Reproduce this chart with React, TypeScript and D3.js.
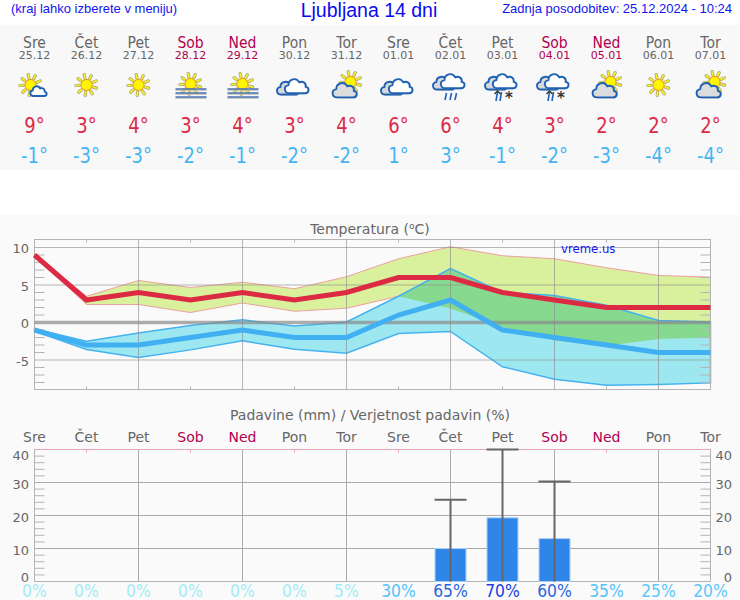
import React from "react";
import * as d3 from "d3";

const dayNames = ["Sre","Čet","Pet","Sob","Ned","Pon","Tor","Sre","Čet","Pet","Sob","Ned","Pon","Tor"];
const dates = ["25.12","26.12","27.12","28.12","29.12","30.12","31.12","01.01","02.01","03.01","04.01","05.01","06.01","07.01"];
const weekendIdx = [3,4,10,11];
const icons = ["sunCloud","sun","sun","fog","fog","cloudy","partly","cloudy","rain","sleet","sleet","partly","sun","partly"];
const maxTemp = [9,3,4,3,4,3,4,6,6,4,3,2,2,2];
const minTemp = [-1,-3,-3,-2,-1,-2,-2,1,3,-1,-2,-3,-4,-4];
const maxHigh = [9,3.5,5.6,4.67,5.37,4.5,6.1,8.5,10.1,8.9,8.5,7.3,6.27,6.05];
const maxLow = [9,2.4,2.4,1.33,2.6,1.5,1.9,3.5,1.87,-0.6,-2.4,-3.1,-2.2,-2.0];
const minHigh = [-0.85,-2.5,-1.4,-0.4,0.35,-0.45,0.08,3.5,7.2,4.0,3.6,2.3,0.27,0.08];
const minLow = [-1.15,-3.6,-4.67,-3.65,-2.45,-3.56,-4.1,-1.47,-1.2,-5.9,-7.56,-8.36,-8.27,-8.05];
const rainIdx = [8,9,10];
const rainMm = [10,19.3,13];
const rainHigh = [24.8,40,30.3];
const probability = [0,0,0,0,0,0,5,30,65,70,60,35,25,20];
const probColors = ["#a4ecf8","#a4ecf8","#a4ecf8","#a4ecf8","#a4ecf8","#a4ecf8","#a4ecf8","#55c2fa","#2b66dc","#1a40dc","#2b66dc","#55c2fa","#5cc8fc","#5cc8fc"];
const tempMajor = [10,5,-5];
const tempLabels = [10,5,0,-5];
const tempMinor = [9,8,7,6,4,3,2,1,-1,-2,-3,-4,-6,-7,-8];
const rainMajor = [10,20,30];
const rainLabels = [40,30,20,10,0];
const rainMinor = [38,36,34,32,28,26,24,22,18,16,14,12,8,6,4,2];

const idx = d3.range(14);
const x = d3.scaleLinear().domain([0,13]).range([34.5,710.5]);
const yT = d3.scaleLinear().domain([0,10]).range([322.5,247.5]);
const yR = d3.scaleLinear().domain([0,40]).range([581.5,449.5]);
const TOP_T = 239.5, BOT_T = 389.5, TOP_R = 449.5, BOT_R = 581.5;
const L = x(0), R = x(13);

const lineOf = d3.line<number>().x((_, i) => x(i)).y((v) => yT(v));
const bandOf = (hi: number[], lo: number[]) =>
  d3.area<number>().x((i) => x(i)).y0((i) => yT(lo[i])).y1((i) => yT(hi[i]))(idx) as string;

const FONT = "'DejaVu Sans', sans-serif";
const ARIAL = "'Liberation Sans', Arial, sans-serif";
const GREY = "#666";
const WEEKEND = "#b0004f";
const GRID = "#b4b4b4";
const CLOUD = "#1f62b4";

function Sun({ cx, cy, r = 5.6 }: { cx: number; cy: number; r?: number }) {
  const rays = d3.range(9).map((k) => (k * 2 * Math.PI) / 9 + 0.3);
  return (
    <g>
      {rays.map((a, i) => (
        <line key={i} x1={cx + Math.cos(a) * (r + 1.5)} y1={cy + Math.sin(a) * (r + 1.5)}
          x2={cx + Math.cos(a) * (r + 5)} y2={cy + Math.sin(a) * (r + 5)}
          stroke="#a0a080" strokeWidth={3.2} strokeLinecap="round" />
      ))}
      {rays.map((a, i) => (
        <line key={"y" + i} x1={cx + Math.cos(a) * (r + 1.5)} y1={cy + Math.sin(a) * (r + 1.5)}
          x2={cx + Math.cos(a) * (r + 5)} y2={cy + Math.sin(a) * (r + 5)}
          stroke="#f6ee20" strokeWidth={1.9} strokeLinecap="round" />
      ))}
      <circle cx={cx} cy={cy} r={r} fill="#fdf600" stroke="#f0a020" strokeWidth={1.1} />
    </g>
  );
}

const CLOUD_PATH = "M-9 8C-15 8-16 0-10-1C-10-8-1-10 2-4C6-6 10-3 9 1C14 2 13 8 8 8Z";

function Cloud({ cx, cy, s = 1, fill = "#fff" }: { cx: number; cy: number; s?: number; fill?: string }) {
  return (
    <g transform={`translate(${cx},${cy}) scale(${s})`}>
      <path d={CLOUD_PATH} fill="#999" opacity={0.4} transform="translate(0.8,1.4)" />
      <path d={CLOUD_PATH} fill={fill} stroke={CLOUD} strokeWidth={1.9 / s} strokeLinejoin="round" />
    </g>
  );
}

function DoubleCloud({ cx, cy }: { cx: number; cy: number }) {
  return (
    <g>
      <Cloud cx={cx - 6} cy={cy + 1} s={0.82} fill="#d8d8d8" />
      <Cloud cx={cx + 3} cy={cy - 1} s={0.9} />
    </g>
  );
}

function Icon({ type, cx }: { type: string; cx: number }) {
  const cy = 85;
  if (type === "sun") return <Sun cx={cx} cy={cy} />;
  if (type === "sunCloud")
    return <g><Sun cx={cx - 4} cy={cy} /><Cloud cx={cx + 4.5} cy={cy + 6} s={0.62} /></g>;
  if (type === "fog")
    return (
      <g>
        <Sun cx={cx} cy={cy - 1} />
        {[4, 8, 12].map((d, i) => (
          <g key={i}>
            <line x1={cx - 15} x2={cx + 16} y1={cy + d + 1.2} y2={cy + d + 1.2} stroke="#bbb" strokeWidth={1.2} />
            <line x1={cx - 15} x2={cx + 16} y1={cy + d} y2={cy + d} stroke="#4a72b0" strokeWidth={1.5} />
          </g>
        ))}
      </g>
    );
  if (type === "cloudy") return <DoubleCloud cx={cx} cy={cy + 2} />;
  if (type === "partly")
    return <g><Sun cx={cx + 4} cy={cy - 3} r={5.6} /><Cloud cx={cx - 1} cy={cy + 5} s={0.92} fill="#dcdcdc" /></g>;
  return (
    <g>
      <DoubleCloud cx={cx} cy={cy - 3} />
      {type === "rain"
        ? [-4, 1, 6].map((d) => (
            <line key={d} x1={cx + d} x2={cx + d - 1.5} y1={cy + 8} y2={cy + 15} stroke={CLOUD} strokeWidth={1.6} />
          ))
        : (
          <g>
            {[-5, -1].map((d) => (
              <line key={d} x1={cx + d} x2={cx + d - 1.5} y1={cy + 7} y2={cy + 16} stroke={CLOUD} strokeWidth={1.6} />
            ))}
            <text x={cx + 6.5} y={cy + 18} textAnchor="middle" fontFamily={FONT} fontSize={15} fontWeight={700} fill="#333">*</text>
            <path d={`M${cx - 8} ${cy + 9}l3-3l3 3`} fill="none" stroke="#333" strokeWidth={1.3} />
          </g>
        )}
    </g>
  );
}

export default function App() {
  const dayColor = (i: number) => (weekendIdx.includes(i) ? WEEKEND : GREY);
  return (
    <svg width={740} height={600} style={{ position: "fixed", left: 0, top: 0, display: "block" }}>
      <rect width={740} height={600} fill="#fff" />
      <rect y={25} width={740} height={145} fill="#f8f8f8" />
      <rect y={215} width={740} height={385} fill="#fafafa" />

      {/* header */}
      <text x={11} y={13} fontFamily={ARIAL} fontSize={13} fill="#1414f0">(kraj lahko izberete v meniju)</text>
      <text x={369} y={17} textAnchor="middle" fontFamily={ARIAL} fontSize={19.5} fill="#0a0af0">Ljubljana 14 dni</text>
      <text x={732} y={13} textAnchor="end" fontFamily={ARIAL} fontSize={13} fill="#1414f0">Zadnja posodobitev: 25.12.2024 - 10:24</text>

      {/* daily panel */}
      {idx.map((i) => (
        <g key={i} textAnchor="middle" fontFamily={FONT}>
          <text transform={`translate(${x(i)},48) scale(0.9,1)`} fontSize={15.5} fill={dayColor(i)}>{dayNames[i]}</text>
          <text x={x(i)} y={59} fontSize={11} fill={dayColor(i)}>{dates[i]}</text>
          <Icon type={icons[i]} cx={x(i)} />
          <text transform={`translate(${x(i)},133) scale(0.82,1)`} fontSize={22} fill="#dc2a44">{maxTemp[i]}°</text>
          <text transform={`translate(${x(i)},162.5) scale(0.82,1)`} fontSize={22} fill="#45b4f2">{minTemp[i]}°</text>
        </g>
      ))}

      {/* temperature */}
      <text x={370} y={234} textAnchor="middle" fontFamily={FONT} fontSize={14} fill={GREY}>
        Temperatura (<tspan fontSize={9} dy={-5}>o</tspan><tspan dy={5}>C)</tspan>
      </text>
      <clipPath id="minBand"><path d={bandOf(minHigh, minLow)} /></clipPath>
      <path d={bandOf(maxHigh, maxLow)} fill="#d9f09c" stroke="#eda0a0" strokeWidth={1} />
      <path d={bandOf(minHigh, minLow)} fill="#9de8f0" />
      <path d={bandOf(maxHigh, maxLow)} fill="#87d98f" clipPath="url(#minBand)" />
      <path d={bandOf(minHigh, minLow)} fill="none" stroke="#45b2f0" strokeWidth={1.5} />
      {tempMajor.map((v) => (
        <line key={v} x1={L} x2={R} y1={yT(v)} y2={yT(v)} stroke="#888" strokeOpacity={0.6} />
      ))}
      {tempMinor.map((v) => (
        <g key={v} stroke={GRID}>
          <line x1={L} x2={L + 10} y1={yT(v)} y2={yT(v)} />
          <line x1={R - 10} x2={R} y1={yT(v)} y2={yT(v)} />
        </g>
      ))}
      {idx.map((i) => i % 2 === 0
        ? <line key={i} x1={x(i)} x2={x(i)} y1={TOP_T} y2={BOT_T} stroke="#888" strokeOpacity={0.6} />
        : <g key={i} stroke={GRID}>
            <line x1={x(i)} x2={x(i)} y1={TOP_T} y2={TOP_T + 3} />
            <line x1={x(i)} x2={x(i)} y1={BOT_T - 3} y2={BOT_T} />
          </g>)}
      <rect x={L} y={TOP_T} width={R - L} height={BOT_T - TOP_T} fill="none" stroke={GRID} />
      <line x1={L} x2={R} y1={yT(0)} y2={yT(0)} stroke="#8a8a8a" strokeOpacity={0.7} strokeWidth={3.4} />
      <path d={lineOf(minTemp) as string} fill="none" stroke="#40b0f2" strokeWidth={5} />
      <path d={lineOf(maxTemp) as string} fill="none" stroke="#dc2a44" strokeWidth={5} />
      <text x={561} y={253} fontFamily={FONT} fontSize={11.7} fill="#1414f0">vreme.us</text>
      {tempLabels.map((v) => (
        <text key={v} x={29} y={yT(v) + 5.5} textAnchor="end" fontFamily={FONT} fontSize={13} fill={GREY}>{v}</text>
      ))}

      {/* precipitation */}
      <text x={370} y={420} textAnchor="middle" fontFamily={FONT} fontSize={14} fill={GREY}>Padavine (mm) / Verjetnost padavin (%)</text>
      {idx.map((i) => (
        <text key={i} x={x(i)} y={442} textAnchor="middle" fontFamily={FONT} fontSize={14} fill={dayColor(i)}>{dayNames[i]}</text>
      ))}
      {rainMajor.map((v) => (
        <line key={v} x1={L} x2={R} y1={yR(v)} y2={yR(v)} stroke="#aaa" />
      ))}
      {rainMinor.map((v) => (
        <g key={v} stroke={GRID}>
          <line x1={L} x2={L + 10} y1={yR(v)} y2={yR(v)} />
          <line x1={R - 10} x2={R} y1={yR(v)} y2={yR(v)} />
        </g>
      ))}
      {idx.map((i) => i % 2 === 0
        ? <line key={i} x1={x(i)} x2={x(i)} y1={TOP_R} y2={BOT_R} stroke="#aaa" />
        : <line key={i} x1={x(i)} x2={x(i)} y1={TOP_R} y2={TOP_R + 3} stroke="#e6a4bc" />)}
      <path d={`M${L} ${TOP_R}V${BOT_R}H${R}V${TOP_R}`} fill="none" stroke={GRID} />
      <line x1={L} x2={R} y1={TOP_R} y2={TOP_R} stroke="#e6a4bc" />
      {rainIdx.map((d, k) => (
        <g key={d}>
          <rect x={x(d) - 15.5} y={yR(rainMm[k])} width={31} height={yR(0) - yR(rainMm[k])} fill="#2f86e8" stroke="#a8d0f4" />
          <line x1={x(d)} x2={x(d)} y1={yR(rainHigh[k])} y2={yR(0)} stroke={GREY} strokeWidth={2} />
          <line x1={x(d) - 16} x2={x(d) + 16} y1={yR(rainHigh[k])} y2={yR(rainHigh[k])} stroke={GREY} strokeWidth={2} />
        </g>
      ))}
      {rainLabels.map((v) => {
        const ly = Math.min(577, Math.max(455, yR(v) + 1.5)) + 5;
        return (
          <g key={v} fontFamily={FONT} fontSize={13} fill={GREY}>
            <text x={29} y={ly} textAnchor="end">{v}</text>
            <text x={732} y={ly} textAnchor="end">{v}</text>
          </g>
        );
      })}
      {idx.map((i) => (
        <text key={i} transform={`translate(${x(i)},597) scale(0.92,1)`} textAnchor="middle" fontFamily={FONT} fontSize={17} fill={probColors[i]}>{probability[i]}%</text>
      ))}
    </svg>
  );
}
